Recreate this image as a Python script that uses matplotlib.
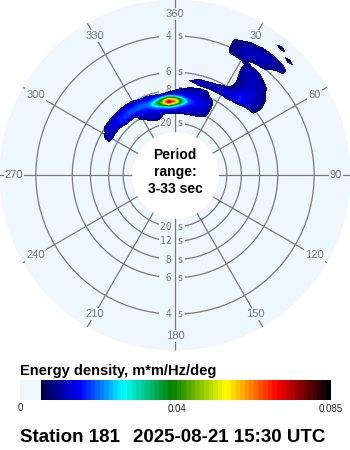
import numpy as np
import matplotlib

matplotlib.use('Agg')
import matplotlib.pyplot as plt
import matplotlib.transforms as mtransforms
from matplotlib.colors import LinearSegmentedColormap, ListedColormap, Normalize
from matplotlib.patches import Rectangle

plt.rcParams['font.family'] = ['Liberation Sans', 'DejaVu Sans']

# --- spectrum: energy density (x 0.001 m*m/Hz/deg) on direction x frequency bins
directions = [-65, -60, -55, -50, -45, -40, -35, -30, -25, -20, -15, -10, -5,
              0, 5, 10, 15, 20, 25, 30, 35, 40, 45, 50, 55]
frequencies = [0.060, 0.065, 0.070, 0.075, 0.080, 0.085, 0.090, 0.095, 0.100,
               0.105, 0.110, 0.115, 0.120, 0.125, 0.130, 0.135, 0.140, 0.145,
               0.150, 0.155, 0.160, 0.170, 0.180, 0.190, 0.200, 0.210, 0.220,
               0.230, 0.240, 0.250, 0.260, 0.270, 0.280, 0.290, 0.300, 0.310,
               0.320]
energy = [
    # -65 -60 -55 -50 -45 -40 -35 -30 -25 -20 -15 -10  -5   0   5  10  15  20  25  30  35  40  45  50  55
    [0, 0, 0, 0, 0, 0, 0, 0, 0, 0, 0, 0, 0, 0, 0, 0, 0, 0, 0, 0, 0, 0, 0, 0, 0],           # 0.060
    [0, 0, 0, 0, 0, 0, 0, 0, 0, 4, 3, 0, 0, 0, 0, 0, 0, 0, 0, 0, 0, 0, 0, 0, 0],           # 0.065
    [0, 0, 0, 0, 0, 0, 0, 0, 3, 6, 6, 0, 0, 0, 0, 0, 0, 0, 0, 0, 0, 0, 0, 0, 0],           # 0.070
    [0, 0, 0, 0, 0, 0, 0, 0, 6, 7, 8, 4, 4, 5, 5, 5, 4, 3, 0, 0, 0, 0, 0, 0, 0],           # 0.075
    [0, 0, 0, 0, 0, 0, 0, 4, 7, 8, 9, 8, 9, 9, 8, 7, 6, 6, 4, 0, 0, 0, 0, 0, 0],           # 0.080
    [0, 0, 0, 0, 0, 0, 0, 6, 8, 9, 11, 12, 15, 14, 11, 9, 8, 7, 6, 0, 0, 0, 0, 0, 0],      # 0.085
    [0, 0, 0, 0, 0, 0, 0, 8, 10, 11, 16, 22, 30, 25, 15, 10, 9, 8, 7, 0, 0, 0, 0, 0, 0],   # 0.090
    [0, 0, 0, 0, 4, 5, 6, 10, 12, 14, 24, 38, 56, 46, 25, 13, 10, 9, 7, 0, 0, 0, 0, 0, 0], # 0.095
    [0, 6, 4, 5, 9, 10, 11, 12, 14, 18, 30, 46, 75, 62, 35, 17, 12, 10, 8, 0, 0, 0, 0, 0, 0],   # 0.100
    [0, 6, 7, 9, 12, 14, 15, 16, 17, 17, 25, 38, 60, 50, 30, 16, 12, 10, 8, 0, 0, 0, 0, 0, 0],  # 0.105
    [0, 6, 8, 10, 12, 14, 15, 15, 15, 13, 16, 22, 34, 28, 18, 12, 11, 9, 7, 0, 0, 0, 0, 0, 0],  # 0.110
    [0, 4, 8, 9, 10, 11, 12, 12, 12, 10, 10, 10, 14, 13, 11, 10, 9, 8, 7, 0, 0, 0, 0, 0, 0],    # 0.115
    [0, 0, 7, 8, 8, 8, 9, 8, 6, 5, 3, 2, 4, 7, 8, 8, 8, 7, 5, 0, 0, 0, 0, 0, 0],           # 0.120
    [0, 0, 4, 4, 5, 5, 6, 4, 0, 0, 0, 0, 0, 3, 6, 7, 7, 7, 3, 0, 0, 0, 0, 0, 0],           # 0.125
    [0, 0, 0, 0, 0, 0, 0, 0, 0, 0, 0, 0, 0, 0, 3, 6, 6, 6, 0, 0, 0, 0, 0, 0, 0],           # 0.130
    [0, 0, 0, 0, 0, 0, 0, 0, 0, 0, 0, 0, 0, 0, 0, 2, 4, 5, 0, 0, 0, 0, 0, 0, 0],           # 0.135
    [0, 0, 0, 0, 0, 0, 0, 0, 0, 0, 0, 0, 0, 0, 0, 0, 0, 0, 0, 0, 0, 0, 0, 0, 0],           # 0.140
    [0, 0, 0, 0, 0, 0, 0, 0, 0, 0, 0, 0, 0, 0, 0, 0, 4, 4, 4, 4, 5, 0, 0, 0, 0],           # 0.145
    [0, 0, 0, 0, 0, 0, 0, 0, 0, 0, 0, 0, 0, 0, 0, 3.5, 7, 7, 7, 8, 8, 7, 0, 0, 0],         # 0.150
    [0, 0, 0, 0, 0, 0, 0, 0, 0, 0, 0, 0, 0, 0, 0, 0, 5, 6, 7, 8, 8, 9, 4, 0, 0],           # 0.155
    [0, 0, 0, 0, 0, 0, 0, 0, 0, 0, 0, 0, 0, 0, 0, 0, 0, 0, 3, 6, 8, 13, 9, 4, 0],          # 0.160
    [0, 0, 0, 0, 0, 0, 0, 0, 0, 0, 0, 0, 0, 0, 0, 0, 0, 0, 0, 0, 6, 11, 9, 5, 0],          # 0.170
    [0, 0, 0, 0, 0, 0, 0, 0, 0, 0, 0, 0, 0, 0, 0, 0, 0, 0, 0, 0, 4, 9, 8, 5, 0],           # 0.180
    [0, 0, 0, 0, 0, 0, 0, 0, 0, 0, 0, 0, 0, 0, 0, 0, 0, 0, 0, 0, 4, 8, 8, 4, 0],           # 0.190
    [0, 0, 0, 0, 0, 0, 0, 0, 0, 0, 0, 0, 0, 0, 0, 0, 0, 0, 0, 0, 5, 8, 7, 3, 0],           # 0.200
    [0, 0, 0, 0, 0, 0, 0, 0, 0, 0, 0, 0, 0, 0, 0, 0, 0, 0, 0, 0, 6, 7, 6, 0, 0],           # 0.210
    [0, 0, 0, 0, 0, 0, 0, 0, 0, 0, 0, 0, 0, 0, 0, 0, 0, 0, 0, 0, 7, 7, 4, 0, 0],           # 0.220
    [0, 0, 0, 0, 0, 0, 0, 0, 0, 0, 0, 0, 0, 0, 0, 0, 0, 0, 0, 0, 6, 4, 0, 0, 0],           # 0.230
    [0, 0, 0, 0, 0, 0, 0, 0, 0, 0, 0, 0, 0, 0, 0, 0, 0, 0, 3.5, 5, 0, 0, 0, 0, 0],         # 0.240
    [0, 0, 0, 0, 0, 0, 0, 0, 0, 0, 0, 0, 0, 0, 0, 0, 0, 0, 4, 7, 6, 3, 0, 0, 0],           # 0.250
    [0, 0, 0, 0, 0, 0, 0, 0, 0, 0, 0, 0, 0, 0, 0, 0, 0, 0, 4, 7, 7, 6, 0, 0, 0],           # 0.260
    [0, 0, 0, 0, 0, 0, 0, 0, 0, 0, 0, 0, 0, 0, 0, 0, 0, 0, 3.5, 6, 7, 7, 4, 0, 0],         # 0.270
    [0, 0, 0, 0, 0, 0, 0, 0, 0, 0, 0, 0, 0, 0, 0, 0, 0, 0, 0, 3, 5, 6, 4, 0, 0],           # 0.280
    [0, 0, 0, 0, 0, 0, 0, 0, 0, 0, 0, 0, 0, 0, 0, 0, 0, 0, 0, 0, 0, 0, 0, 0, 0],           # 0.290
    [0, 0, 0, 0, 0, 0, 0, 0, 0, 0, 0, 0, 0, 0, 0, 0, 0, 0, 0, 0, 0, 0, 4, 0, 0],           # 0.300
    [0, 0, 0, 0, 0, 0, 0, 0, 0, 0, 0, 0, 0, 0, 0, 0, 0, 0, 0, 0, 0, 4, 0, 0, 0],           # 0.310
    [0, 0, 0, 0, 0, 0, 0, 0, 0, 0, 0, 0, 0, 0, 0, 0, 0, 0, 0, 0, 0, 0, 0, 0, 0],           # 0.320
]

ring_periods = [4, 6, 8, 12, 20]
spoke_angles = list(range(0, 360, 30))
period_min, period_max = 3, 33
e_max = 0.085
cbar_ticks = [0.04, 0.085]
station = 'Station 181'
stamp = '2025-08-21 15:30 UTC'

disc = '#eef6fe'
grey = '#7a7a7a'

cmap = LinearSegmentedColormap.from_list('spec', [
    (0.0, '#000050'), (0.128, '#0000ff'), (0.28, '#00ffff'), (0.45, '#008000'),
    (0.64, '#ffff00'), (0.82, '#ff0000'), (1.0, '#000000')])
cmap64 = ListedColormap(cmap(np.linspace(0, 1, 64)))
norm = Normalize(0, e_max)

W, H = 350, 450
fig = plt.figure(figsize=(W / 100, H / 100), dpi=100)
fig.patch.set_facecolor('white')

# polar panel, radius runs linearly in frequency; r_lo sits at the centre
cx, cy, R = 175, 175, 175.5
ax = fig.add_axes([(cx - R) / W, (H - cy - R) / H, 2 * R / W, 2 * R / H],
                  projection='polar')
ax.set_theta_zero_location('N')
ax.set_theta_direction(-1)
f_in, f_out = 1 / period_max, 1 / period_min
r_lo = -0.0687
ax.set_rlim(r_lo, f_out)
ax.set_facecolor(disc)
ax.grid(False)
ax.set_xticks([])
ax.set_yticks([])
for s in ax.spines.values():
    s.set_visible(False)

th = np.linspace(0, 2 * np.pi, 721)
for T in ring_periods:
    ax.plot(th, np.full_like(th, 1 / T), color=grey, lw=0.9, zorder=1)

shift = mtransforms.offset_copy(ax.transData, fig=fig, x=-2.1, y=0, units='points')
for T in ring_periods:
    for a in (0, np.pi):
        ax.text(a, 1 / T, f'{T:>2} s', transform=shift, family='DejaVu Sans Mono',
                fontsize=7, color=grey, ha='center', va='center', zorder=2,
                bbox=dict(fc=disc, ec='none', pad=0.8))

for a in spoke_angles:
    ax.plot([np.deg2rad(a)] * 2, [f_in, f_out], color=grey, lw=0.9, zorder=3)
    ax.text(np.deg2rad(a), 0.30, '360' if a == 0 else str(a), fontsize=8,
            color=grey, ha='center', va='center', zorder=4,
            bbox=dict(fc=disc, ec='none', pad=0.8))

# blank centre for periods beyond the range
ax.fill_between(th, r_lo, f_in, color='white', lw=0, zorder=4.5)

E = np.array(energy, dtype=float) * 1e-3
levels = np.linspace(0, e_max, 65)[2:]
ax.contourf(np.deg2rad(directions), frequencies, E, levels=levels,
            cmap=cmap64, norm=norm, zorder=5)

fig.text(cx / W, 1 - 172 / H, 'Period\nrange:\n3-33 sec', ha='center', va='center',
         fontsize=10, weight='bold', linespacing=1.25)

# colour scale
cb_l, cb_r, cb_top, cb_bot = 41, 331, 380, 400
cax = fig.add_axes([cb_l / W, 1 - cb_bot / H, (cb_r - cb_l) / W, (cb_bot - cb_top) / H])
cax.imshow(np.arange(64)[None, :], cmap=cmap64, aspect='auto',
           extent=[0, e_max, 0, 1], interpolation='nearest')
cax.set_xlim(0, e_max)
cax.set_yticks([])
cax.set_xticks(cbar_ticks)
cax.set_xticklabels([f'{v:g}' for v in cbar_ticks])
cax.tick_params(axis='x', length=0, pad=3, labelsize=7, labelcolor='#222222')
for s in cax.spines.values():
    s.set_visible(False)
fig.add_artist(Rectangle((20 / W, 1 - cb_bot / H), (cb_l - 20) / W, (cb_bot - cb_top) / H,
                         transform=fig.transFigure, fc=disc, ec='none'))
fig.text(20 / W, 1 - 403 / H, '0', ha='center', va='top', fontsize=7, color='#222222')

fig.text(20 / W, 1 - 371 / H, 'Energy density, m*m/Hz/deg', ha='left', va='center',
         fontsize=10.5, weight='bold')
fig.text(20 / W, 1 - 437 / H, station, ha='left', va='center', fontsize=13.5, weight='bold')
fig.text(133 / W, 1 - 437 / H, stamp, ha='left', va='center', fontsize=13.5, weight='bold')

fig.savefig('out.png', dpi=100)
